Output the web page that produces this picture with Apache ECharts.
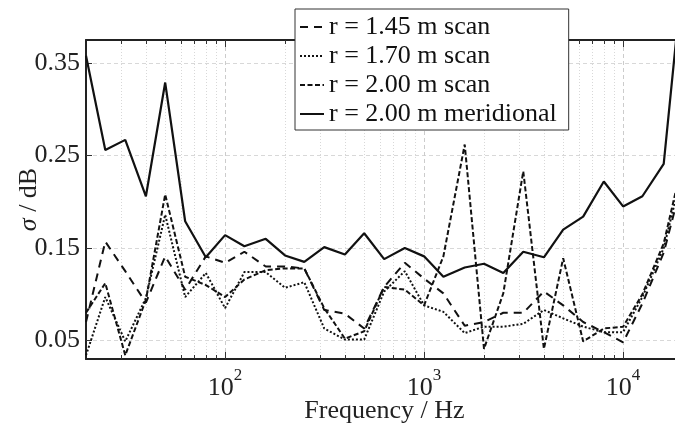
<!DOCTYPE html>
<html><head><meta charset="utf-8">
<script src="https://cdn.jsdelivr.net/npm/echarts@6/dist/echarts.min.js"></script>
<style>html,body{margin:0;padding:0;background:#fff}#c{width:675px;height:433px}</style>
</head><body><div id="c"></div>
<script>
const freqs = [20,25,31.5,40,50,63,80,100,125,160,200,250,315,400,500,630,800,1000,1250,1600,2000,2500,3150,4000,5000,6300,8000,10000,12500,16000,20000];
const r145scan = [0.070,0.157,0.125,0.091,0.141,0.105,0.141,0.134,0.146,0.130,0.130,0.128,0.083,0.079,0.063,0.108,0.134,0.117,0.101,0.066,0.070,0.080,0.080,0.103,0.088,0.070,0.059,0.048,0.090,0.145,0.225];
const r170scan = [0.034,0.097,0.049,0.096,0.186,0.097,0.123,0.085,0.124,0.124,0.107,0.113,0.063,0.051,0.051,0.103,0.125,0.088,0.081,0.058,0.065,0.065,0.068,0.083,0.074,0.065,0.059,0.059,0.097,0.150,0.235];
const r200scan = [0.080,0.112,0.034,0.094,0.208,0.119,0.110,0.097,0.116,0.126,0.128,0.128,0.085,0.052,0.060,0.108,0.105,0.088,0.141,0.262,0.041,0.101,0.233,0.041,0.139,0.049,0.063,0.065,0.100,0.155,0.245];
const r200merid = [0.358,0.256,0.267,0.206,0.329,0.179,0.140,0.164,0.152,0.160,0.142,0.135,0.151,0.143,0.166,0.138,0.150,0.141,0.119,0.129,0.133,0.123,0.146,0.140,0.170,0.184,0.222,0.195,0.206,0.241,0.450];
const seriesNames = ['r = 1.45 m scan','r = 1.70 m scan','r = 2.00 m scan','r = 2.00 m meridional'];
const majorTicks = [100,1000,10000];
const minorTicks = [30,40,50,60,70,80,90,200,300,400,500,600,700,800,900,2000,3000,4000,5000,6000,7000,8000,9000];
const yTicks = [0.05,0.15,0.25,0.35];

const FONT = 'Liberation Serif';
const chart = echarts.init(document.getElementById('c'), null, {renderer:'canvas'});
function pairs(arr){ return freqs.map((f,i)=>[f,arr[i]]); }
function xAx(pos, ticks, len, opts){
  return Object.assign({
    type:'log', logBase:10, min:20, max:20000, position:pos, gridIndex:0,
    axisLine:{show:false},
    axisTick:{show:true, inside:true, length:len, customValues:ticks, lineStyle:{color:'#333', width:1}},
    axisLabel:{show:false},
    splitLine:{show:false},
    minorTick:{show:false}, minorSplitLine:{show:false}
  }, opts||{});
}
const option = {
  backgroundColor:'#fff',
  animation:false,
  grid:{left:86, top:40, right:-8, bottom:74, containLabel:false, outerBoundsMode:'none'},
  xAxis:[
    xAx('bottom', minorTicks, 4, {
      axisLine:{show:true, onZero:false, lineStyle:{color:'#222', width:2}},
      splitLine:{show:true, lineStyle:{color:'#d8d8d8', type:[1,2], width:1}},
      name:'Frequency / Hz', nameLocation:'middle', nameGap:39, nameMoveOverlap:false,
      nameTextStyle:{fontFamily:FONT, fontSize:26, color:'#222'}
    }),
    xAx('bottom', majorTicks, 7, {
      splitLine:{show:true, lineStyle:{color:'#cccccc', type:[4,3], width:1}},
      axisLabel:{show:true, customValues:majorTicks, margin:8,
        formatter:function(v){ return '{b|10}{s|'+Math.round(Math.log10(v))+'}'; },
        rich:{ b:{fontFamily:FONT, fontSize:26, color:'#222', padding:[8,0,0,0], verticalAlign:'bottom'},
               s:{fontFamily:FONT, fontSize:17, color:'#222', verticalAlign:'top'} }
      }
    }),
    xAx('top', minorTicks, 4, {axisLine:{show:true, onZero:false, lineStyle:{color:'#222', width:2}}}),
    xAx('top', majorTicks, 7, {})
  ],
  yAxis:[{
    type:'value', min:0.03, max:0.375, position:'left',
    axisLine:{show:true, onZero:false, lineStyle:{color:'#222', width:2}},
    axisTick:{show:true, inside:true, length:6, customValues:yTicks, lineStyle:{color:'#333'}},
    axisLabel:{show:true, customValues:yTicks, margin:6, fontFamily:FONT, fontSize:26, color:'#222',
      formatter:function(v){return v.toFixed(2);} },
    splitLine:{show:true, lineStyle:{color:'#d8d8d8', type:[4,3], width:1}},
    name:'{i|σ} / dB', nameLocation:'middle', nameRotate:90, nameGap:44, nameMoveOverlap:false,
    nameTextStyle:{fontFamily:FONT, fontSize:26, color:'#222', rich:{i:{fontFamily:FONT, fontSize:26, fontStyle:'italic', color:'#222'}}}
  }],
  legend:{
    show:true, orient:'vertical', left:295, top:9,
    backgroundColor:'#fff', borderColor:'#333', borderWidth:1,
    padding:[5,12,3,4], itemWidth:24, itemHeight:14, itemGap:3,
    itemStyle:{opacity:0},
    textStyle:{fontFamily:FONT, fontSize:26, color:'#111'},
    data:seriesNames
  },
  series:[
    {name:seriesNames[0], type:'line', xAxisIndex:0, symbol:'none', data:pairs(r145scan),
     lineStyle:{color:'#111', width:2, type:[8,6]}, itemStyle:{color:'#111'}},
    {name:seriesNames[1], type:'line', xAxisIndex:0, symbol:'none', data:pairs(r170scan),
     lineStyle:{color:'#111', width:2, type:[2,2]}, itemStyle:{color:'#111'}},
    {name:seriesNames[2], type:'line', xAxisIndex:0, symbol:'none', data:pairs(r200scan),
     lineStyle:{color:'#111', width:2, type:[5,2.5]}, itemStyle:{color:'#111'}},
    {name:seriesNames[3], type:'line', xAxisIndex:0, symbol:'none', data:pairs(r200merid),
     lineStyle:{color:'#111', width:2.2, type:'solid'}, itemStyle:{color:'#111'}}
  ]
};
chart.setOption(option);
</script>
</body></html>
